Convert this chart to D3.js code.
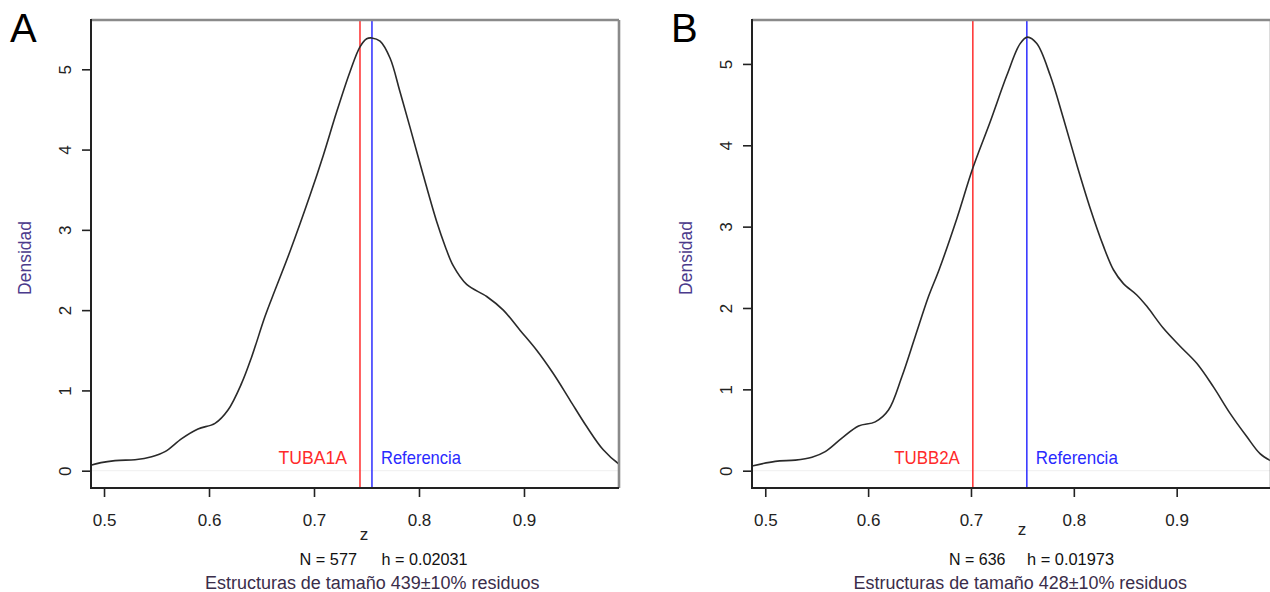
<!DOCTYPE html>
<html><head><meta charset="utf-8">
<script src="https://cdn.jsdelivr.net/npm/d3@7"></script>
<style>body{margin:0;background:#fff} svg{display:block} text{font-family:"Liberation Sans",Arial,sans-serif}</style>
</head><body><svg id="c" width="1270" height="592"></svg>
<script>
// Panel A density (z, density)
const zA=[0.4876,0.4883,0.5105,0.5295,0.5454,0.5581,0.574,0.5895,0.6057,0.6181,0.6311,0.6407,0.6533,0.6629,0.6771,0.6962,0.7089,0.7216,0.7343,0.7438,0.7502,0.755,0.7629,0.7724,0.7819,0.7914,0.8041,0.8169,0.8248,0.8327,0.8454,0.8645,0.8803,0.8962,0.9121,0.9279,0.9438,0.9597,0.9755,0.9898,0.9905];
const densA=[0.065,0.07,0.125,0.137,0.174,0.237,0.40,0.52,0.59,0.756,1.09,1.42,1.92,2.25,2.73,3.43,3.93,4.47,4.97,5.28,5.38,5.39,5.35,5.14,4.72,4.28,3.68,3.10,2.80,2.55,2.32,2.17,2.00,1.75,1.50,1.21,0.88,0.55,0.26,0.09,0.085];
// Panel B density
const zB=[0.4871,0.5097,0.5292,0.5454,0.5583,0.5745,0.5907,0.6069,0.6198,0.6328,0.6458,0.6587,0.669,0.6863,0.7018,0.7187,0.7349,0.7478,0.7549,0.764,0.777,0.7899,0.8029,0.8158,0.8288,0.8385,0.8482,0.8612,0.871,0.8871,0.9033,0.9195,0.9357,0.9519,0.9681,0.981,0.9917];
const densB=[0.058,0.115,0.13,0.165,0.234,0.40,0.55,0.60,0.746,1.155,1.65,2.14,2.47,3.10,3.72,4.29,4.86,5.25,5.33,5.25,4.86,4.33,3.76,3.23,2.76,2.47,2.30,2.16,2.02,1.75,1.53,1.32,1.03,0.705,0.42,0.21,0.12];

const yTicks=[0,1,2,3,4,5];
const xTicks=[0.5,0.6,0.7,0.8,0.9];
const panelLetters=["A","B"];
const markerNames=["TUBA1A","TUBB2A"];
const markerZ=[0.7438,0.7018];
const refZ=[0.7552,0.7543];
const refName="Referencia";
const nValues=[577,636];
const hValues=["0.02031","0.01973"];
const sizes=[439,428];
const xDomains=[[0.4876,0.9905],[0.4871,0.9917]];
const yDomains=[[-0.2155,5.614],[-0.2127,5.540]];

const svg=d3.select("#c");
const font='"Liberation Sans",Arial,sans-serif';

const panels=[
  {z:zA,d:densA,left:91,right:619,top:20,bottom:488,
   letterX:10,densX:31,zLab:[364,540],nX:299.5,nW:57.5,hX:381.5,hW:86,eX:205,eW:334.5,mW:68.4,rW:80},
  {z:zB,d:densB,left:752,right:1271,top:20,bottom:488,
   letterX:671,densX:692,zLab:[1022,535],nX:949,nW:56.4,hX:1027,hW:87,eX:853.6,eW:333.4,mW:65.6,rW:82}
];

panels.forEach((p,i)=>{
  const g=svg.append("g");
  const x=d3.scaleLinear().domain(xDomains[i]).range([p.left,p.right]);
  const y=d3.scaleLinear().domain(yDomains[i]).range([p.bottom,p.top]);
  const clipId="clip"+i;
  svg.append("clipPath").attr("id",clipId).append("rect")
    .attr("x",p.left).attr("y",p.top).attr("width",p.right-p.left).attr("height",p.bottom-p.top);

  g.append("line").attr("x1",p.left).attr("x2",p.right).attr("y1",y(0)).attr("y2",y(0))
    .attr("stroke","#efefef").attr("stroke-width",1);

  g.append("line").attr("x1",x(markerZ[i])).attr("x2",x(markerZ[i])).attr("y1",p.top).attr("y2",p.bottom)
    .attr("stroke","#ff3a3a").attr("stroke-width",1.6);
  g.append("line").attr("x1",x(refZ[i])).attr("x2",x(refZ[i])).attr("y1",p.top).attr("y2",p.bottom)
    .attr("stroke","#3a3aff").attr("stroke-width",1.6);

  const data=p.z.map((v,k)=>[v,p.d[k]]);
  g.append("path").datum(data).attr("clip-path",`url(#${clipId})`)
    .attr("d",d3.line().x(e=>x(e[0])).y(e=>y(e[1])).curve(d3.curveCatmullRom.alpha(0.5)))
    .attr("fill","none").attr("stroke","#2a2a2a").attr("stroke-width",1.6);

  g.append("line").attr("x1",p.left).attr("x2",p.right).attr("y1",p.top).attr("y2",p.top)
    .attr("stroke","#8a8a8a").attr("stroke-width",2.6);
  g.append("line").attr("x1",p.right).attr("x2",p.right).attr("y1",p.top).attr("y2",p.bottom)
    .attr("stroke","#8a8a8a").attr("stroke-width",2.6);
  g.append("line").attr("x1",p.left).attr("x2",p.left).attr("y1",p.top-1).attr("y2",p.bottom+1)
    .attr("stroke","#222").attr("stroke-width",2);
  g.append("line").attr("x1",p.left).attr("x2",p.right).attr("y1",p.bottom).attr("y2",p.bottom)
    .attr("stroke","#222").attr("stroke-width",2);

  const ya=g.append("g").attr("transform",`translate(${p.left},0)`)
    .call(d3.axisLeft(y).tickValues(yTicks).tickSize(9).tickPadding(0).tickFormat(d3.format("d")));
  ya.select(".domain").remove();
  ya.selectAll(".tick line").attr("stroke","#222").attr("stroke-width",1.6);
  ya.selectAll(".tick text").attr("x",0).attr("dy",0)
    .attr("transform","translate(-20,0) rotate(-90)").attr("text-anchor","middle")
    .attr("font-family",font).attr("font-size",17).attr("fill","#222");

  const xa=g.append("g").attr("transform",`translate(0,${p.bottom})`)
    .call(d3.axisBottom(x).tickValues(xTicks).tickSize(9).tickFormat(d3.format(".1f")));
  xa.select(".domain").remove();
  xa.selectAll(".tick line").attr("stroke","#222").attr("stroke-width",1.6);
  xa.selectAll(".tick text").attr("y",38).attr("dy",0)
    .attr("font-family",font).attr("font-size",17).attr("fill","#222");

  g.append("text").attr("x",x(markerZ[i])-13).attr("y",464).attr("text-anchor","end")
    .attr("font-size",19).attr("fill","#ff2a2a")
    .attr("textLength",p.mW).attr("lengthAdjust","spacingAndGlyphs").text(markerNames[i]);
  g.append("text").attr("x",x(refZ[i])+9).attr("y",464)
    .attr("font-size",19).attr("fill","#2a2aff")
    .attr("textLength",p.rW).attr("lengthAdjust","spacingAndGlyphs").text(refName);

  g.append("text").attr("x",p.letterX).attr("y",42).attr("font-size",40).attr("fill","#000").text(panelLetters[i]);

  g.append("text").attr("transform",`translate(${p.densX},258) rotate(-90)`).attr("text-anchor","middle")
    .attr("font-size",17.5).attr("fill","#4b3a8c").text("Densidad");

  g.append("text").attr("x",p.zLab[0]).attr("y",p.zLab[1]).attr("text-anchor","middle")
    .attr("font-size",17).attr("fill","#222").text("z");
  g.append("text").attr("x",p.nX).attr("y",565).attr("font-size",17).attr("fill","#111")
    .attr("textLength",p.nW).attr("lengthAdjust","spacingAndGlyphs").text("N = "+nValues[i]);
  g.append("text").attr("x",p.hX).attr("y",565).attr("font-size",17).attr("fill","#111")
    .attr("textLength",p.hW).attr("lengthAdjust","spacingAndGlyphs").text("h = "+hValues[i]);
  g.append("text").attr("x",p.eX).attr("y",589).attr("font-size",18).attr("fill","#3a2d4a")
    .attr("textLength",p.eW).attr("lengthAdjust","spacingAndGlyphs")
    .text("Estructuras de tamaño "+sizes[i]+"±10% residuos");
});
</script></body></html>
